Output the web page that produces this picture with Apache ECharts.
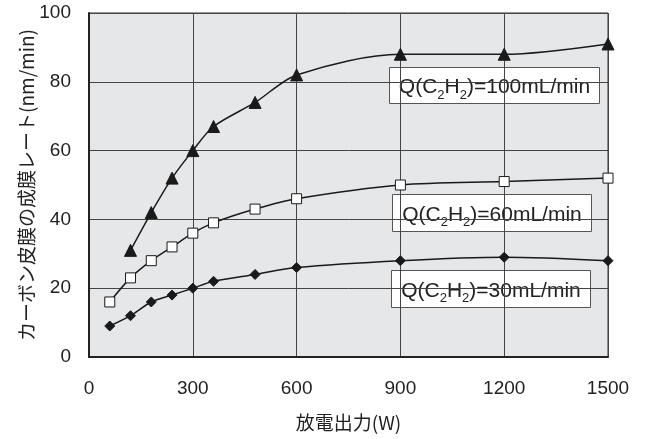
<!DOCTYPE html>
<html>
<head>
<meta charset="utf-8">
<script src="https://cdn.jsdelivr.net/npm/echarts@6/dist/echarts.min.js"></script>
<style>
    html, body { margin: 0; padding: 0; background: #fff; }
    #chart { width: 645px; height: 439px; }
</style>
</head>
<body>
<div id="chart"></div>
<script>
// 放電出力 (W)
const power = [60, 120, 180, 240, 300, 360, 480, 600, 900, 1200, 1500];
// 成膜レート (nm/min)
const rate100 = [null, 31, 42, 52, 60, 67, 74, 82, 88, 88, 91];
const rate60 = [16, 23, 28, 32, 36, 39, 43, 46, 50, 51, 52];
const rate30 = [9, 12, 16, 18, 20, 22, 24, 26, 28, 29, 28];
const flowLabels = ['100', '60', '30'];

function pairs(values) {
    let out = [];
    for (let i = 0; i < power.length; i++) {
        if (values[i] != null) out.push([power[i], values[i]]);
    }
    return out;
}

function makeSeries(name, values, symbol, size, fill) {
    return {
        name: name,
        type: 'line',
        smooth: 0.3,
        data: pairs(values),
        symbol: symbol,
        symbolSize: size,
        lineStyle: { color: '#1a1a1a', width: 1.5 },
        itemStyle: { color: fill, borderColor: '#1a1a1a', borderWidth: 1 },
        z: 3
    };
}

// 凡例ボックス
function labelBox(flow, x, y, w, h) {
    return {
        type: 'group',
        left: x,
        top: y,
        children: [
            {
                type: 'rect',
                shape: { x: 0, y: 0, width: w, height: h },
                style: { fill: '#fff', stroke: '#555', lineWidth: 1 }
            },
            {
                type: 'text',
                x: w / 2,
                y: h / 2 + 2,
                style: {
                    text: '{a|Q(C}{s|2}{a|H}{s|2}{a|)=' + flow + 'mL/min}',
                    align: 'center',
                    verticalAlign: 'middle',
                    rich: {
                        a: { fontSize: 21, fontFamily: 'Liberation Sans', fill: '#222', lineHeight: 26, verticalAlign: 'middle' },
                        s: { fontSize: 13, fontFamily: 'Liberation Sans', fill: '#222', verticalAlign: 'top', padding: [15, 0, 0, 0] }
                    }
                }
            }
        ]
    };
}

let chart = echarts.init(document.getElementById('chart'), null, { renderer: 'canvas' });

chart.setOption({
    animation: false,
    grid: {
        left: 89,
        right: 37,
        top: 13,
        bottom: 82,
        show: true,
        backgroundColor: '#e6e7e9',
        borderColor: '#333',
        borderWidth: 1
    },
    xAxis: {
        type: 'value',
        min: 0,
        max: 1500,
        interval: 300,
        name: '放電出力(W)',
        nameLocation: 'middle',
        nameGap: 56,
        nameMoveOverlap: false,
        nameTextStyle: { fontSize: 19, fontFamily: 'Noto Sans CJK JP', color: '#222' },
        axisLine: { lineStyle: { color: '#222', width: 2 } },
        axisTick: { show: false },
        axisLabel: {
            fontSize: 19, fontFamily: 'Liberation Sans', color: '#222', margin: 22,
            formatter: function (v) { return String(v); }
        },
        splitLine: { lineStyle: { color: '#444', width: 1 } }
    },
    yAxis: {
        type: 'value',
        min: 0,
        max: 100,
        interval: 20,
        name: 'カーボン皮膜の成膜レート(nm/min)',
        nameLocation: 'middle',
        nameRotate: 90,
        nameGap: 53,
        nameMoveOverlap: false,
        nameTextStyle: { fontSize: 19, fontFamily: 'Noto Sans CJK JP', color: '#222' },
        axisLine: { show: true, lineStyle: { color: '#222', width: 2 } },
        axisTick: { show: false },
        axisLabel: { fontSize: 19, fontFamily: 'Liberation Sans', color: '#222', margin: 18 },
        splitLine: { lineStyle: { color: '#444', width: 1 } }
    },
    graphic: [
        labelBox(flowLabels[0], 389, 67, 210, 36),
        labelBox(flowLabels[1], 392, 194, 199, 37),
        labelBox(flowLabels[2], 391, 270, 199, 37)
    ],
    series: [
        makeSeries('100', rate100, 'triangle', 12, '#1a1a1a'),
        makeSeries('60', rate60, 'rect', 10, '#fff'),
        makeSeries('30', rate30, 'diamond', 10, '#1a1a1a')
    ]
});
</script>
</body>
</html>
